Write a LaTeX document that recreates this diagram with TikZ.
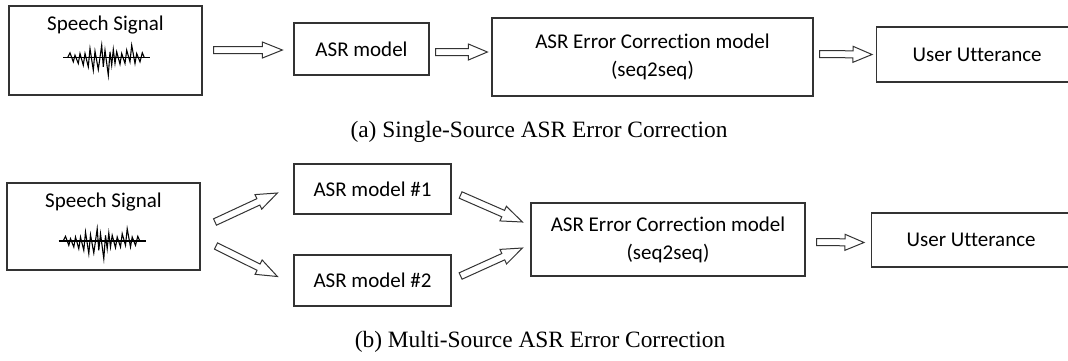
\documentclass[tikz,border=0pt]{standalone}
\usepackage{fontspec}
\setmainfont{Liberation Serif}
\newfontfamily\carl[Ligatures=NoCommon]{Carlito}
\usetikzlibrary{calc}
\tikzset{
  box/.style={draw=black!80, line width=1.2pt, fill=white, inner sep=0pt},
  txt/.style={font=\carl\fontsize{21}{28}\selectfont, align=center, inner sep=0pt},
  arrowst/.style={draw=black!80, line width=1pt, fill=white, line join=miter},
  captext/.style={font=\fontsize{23.4}{28}\selectfont, inner sep=0pt},
  wave/.pic={
    \draw[line width=1.1pt] (-43.5,0) -- (43.5,0);
    \draw[line width=1.1pt, line join=miter] plot coordinates {(-38.8,0) (-36.5,-4.7) (-33.2,4.3) (-31.5,-2.3) (-28.2,6) (-26.5,-4) (-23.2,7.7) (-21.5,-4) (-18.2,9.3) (-16.5,-9) (-13.2,12.7) (-11.5,-6.3) (-8.2,12) (-4.8,-12.3) (-3.2,9.3) (-1.5,-7.3) (1.8,17.7) (3.5,-5.7) (5.2,7.7) (6.8,-8) (8.5,6) (10.2,-5.7) (13.5,6.7) (15.2,-4) (18.5,6) (20.2,-7.3) (23.5,4.3) (25.2,-12.3) (28.5,6) (30.2,-4) (33.5,4.3) (35.8,-4.7) (37.8,0)};
  }
}
% block arrow from #2 to #3, head length #1
\newcommand{\blkarrow}[3][20pt]{%
  \coordinate (hb) at ($(#3)!#1!(#2)$);
  \draw[arrowst] ($(#2)!3.5pt!90:(#3)$) -- ($(hb)!3.5pt!-90:(#2)$) -- ($(hb)!8pt!-90:(#2)$)
    -- (#3) -- ($(hb)!8pt!90:(#2)$) -- ($(hb)!3.5pt!90:(#2)$) -- ($(#2)!3.5pt!-90:(#3)$) -- cycle;
}
\begin{document}
\begin{tikzpicture}[x=1pt,y=-1pt]
\useasboundingbox (0,0) rectangle (1068,360);
\clip (0,0) rectangle (1068,360);
\fill[white] (0,0) rectangle (1068,360);

% ---------- (a) ----------
\node[box, minimum width=193pt, minimum height=89pt] (sp1) at (105.5,50.5) {};
\node[txt] (sp1t) at (105.5,25) {Speech Signal};
\pic at (106.5,57.5) {wave};
\node[box, txt, minimum width=135pt, minimum height=52pt] (asr) at (361.5,49) {ASR model};
\node[box, txt, minimum width=321pt, minimum height=78pt] (ecm) at (652.5,57) {ASR Error Correction model\\(seq2seq)};
\node[box, txt, anchor=west, minimum height=55pt, inner xsep=36pt] (uu) at (876,54.5) {\makebox[200pt][l]{User Utterance}};

\coordinate (a1s) at ($(sp1.east)+(11,-0.5)$);
\coordinate (a1e) at ($(asr.west)+(-11,1)$);
\blkarrow{a1s}{a1e}
\coordinate (a2s) at ($(asr.east)+(6,3)$);
\coordinate (a2e) at ($(ecm.west)+(-4,-5)$);
\blkarrow[19pt]{a2s}{a2e}
\coordinate (a3s) at ($(ecm.east)+(6,-3)$);
\coordinate (a3e) at ($(uu.west)+(-4,0)$);
\blkarrow[19pt]{a3s}{a3e}

\node[captext] (capa) at (539,132) {(a) Single-Source ASR Error Correction};

% ---------- (b) ----------
\node[box, minimum width=193pt, minimum height=87pt] (sp2) at (103.5,226.5) {};
\node[txt] (sp2t) at (103.5,202) {Speech Signal};
\pic at (102,241) {wave};
\node[box, txt, minimum width=157pt, minimum height=50pt] (asr1) at (372.5,189) {ASR model \#1};
\node[box, txt, minimum width=157pt, minimum height=51pt] (asr2) at (372.5,280.5) {ASR model \#2};
\node[box, txt, minimum width=274pt, minimum height=73pt] (ecm2) at (668,239.5) {ASR Error Correction model\\(seq2seq)};
\node[box, txt, anchor=west, minimum height=54pt, inner xsep=35pt] (uu2) at (871,240) {\makebox[200pt][l]{User Utterance}};

\coordinate (b1s) at (215,222);
\coordinate (b1e) at ($(asr1.west)+(-16,4)$);
\blkarrow[21pt]{b1s}{b1e}
\coordinate (b2s) at (216,246);
\coordinate (b2e) at ($(asr2.west)+(-16,-4)$);
\blkarrow[21pt]{b2s}{b2e}
\coordinate (b3s) at ($(asr1.east)+(9,6)$);
\coordinate (b3e) at ($(ecm2.west)+(-8,-17.5)$);
\blkarrow[21pt]{b3s}{b3e}
\coordinate (b4s) at ($(asr2.east)+(9,-4.5)$);
\coordinate (b4e) at ($(ecm2.west)+(-8,8.5)$);
\blkarrow[21pt]{b4s}{b4e}
\coordinate (b5s) at ($(ecm2.east)+(11,2.5)$);
\coordinate (b5e) at ($(uu2.west)+(-7,2.5)$);
\blkarrow[19pt]{b5s}{b5e}

\node[captext] (capb) at (540,342) {(b) Multi-Source ASR Error Correction};
\end{tikzpicture}
\end{document}
